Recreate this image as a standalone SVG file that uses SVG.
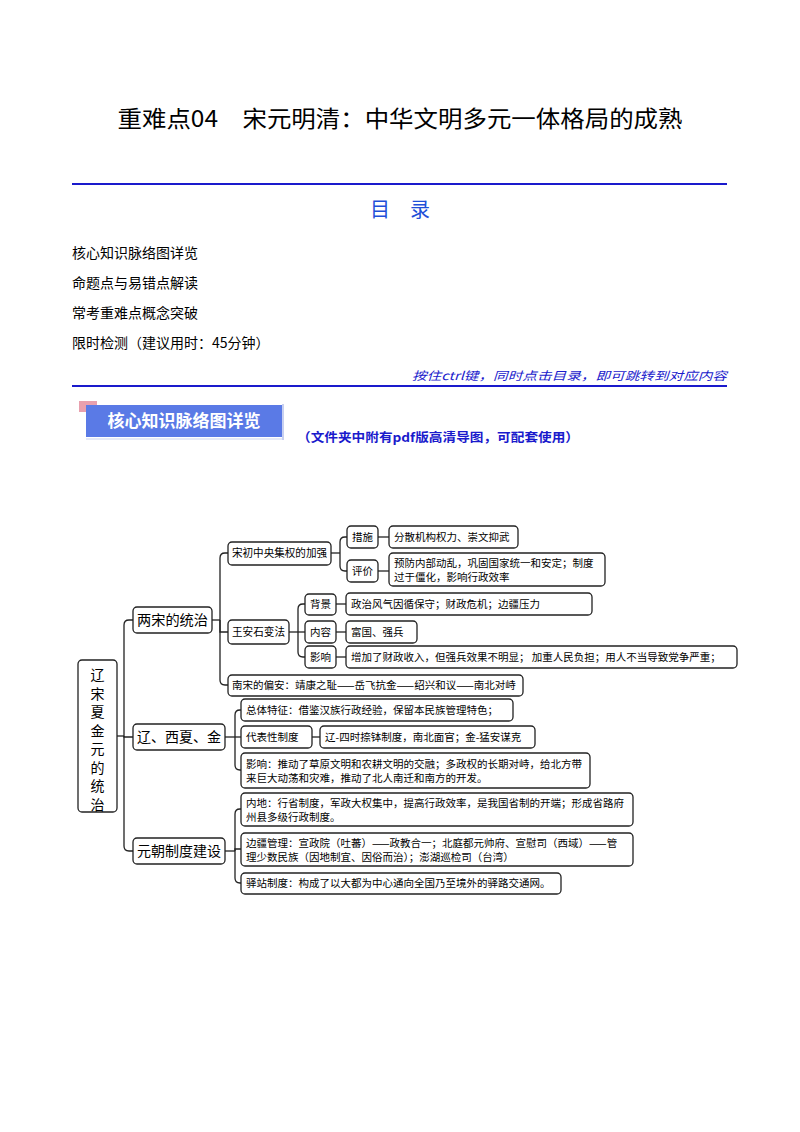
<svg xmlns="http://www.w3.org/2000/svg" width="800" height="1132" viewBox="0 0 800 1132">
<style>
text{font-family:"Noto Sans CJK SC","Liberation Sans",sans-serif;fill:#000}
.b{fill:#fff;stroke:#222;stroke-width:1.3}
.c{fill:none;stroke:#222;stroke-width:1.3}
.s{font-size:10.5px}
.m{font-size:11px}
.l{font-size:14px}
.toc{font-size:14px}
</style>
<rect width="800" height="1132" fill="#fff"/>
<text x="400" y="127" text-anchor="middle" style="font-size:23px" textLength="565" lengthAdjust="spacingAndGlyphs">重难点04　宋元明清：中华文明多元一体格局的成熟</text>
<line x1="72" y1="184" x2="727" y2="184" stroke="#1a1acc" stroke-width="2.2"/>
<text x="400" y="217" text-anchor="middle" style="font-size:20px;fill:#1f4fd8">目　录</text>
<text class="toc" x="72" y="258">核心知识脉络图详览</text>
<text class="toc" x="72" y="288">命题点与易错点解读</text>
<text class="toc" x="72" y="318">常考重难点概念突破</text>
<text class="toc" x="72" y="348">限时检测（建议用时：45分钟）</text>
<line x1="72" y1="386" x2="727" y2="386" stroke="#1a1acc" stroke-width="2"/>
<text x="727" y="380" text-anchor="end" style="font-size:11.5px;fill:#1a1acc;font-style:italic" textLength="315" lengthAdjust="spacingAndGlyphs">按住ctrl键，同时点击目录，即可跳转到对应内容</text>
<rect x="79" y="401" width="18" height="11" fill="#e8a0ae"/>
<rect x="86" y="405" width="196" height="32" fill="#5a7ae6"/>
<line x1="283" y1="404" x2="283" y2="440" stroke="#c8d0f0" stroke-width="2"/>
<line x1="86" y1="439" x2="282" y2="439" stroke="#dde2f5" stroke-width="1.5"/>
<text x="184" y="427" text-anchor="middle" style="font-size:17px;font-weight:bold;fill:#fff">核心知识脉络图详览</text>
<text x="297" y="442" style="font-size:12.5px;font-weight:bold;fill:#1a1acc" textLength="282" lengthAdjust="spacingAndGlyphs">（文件夹中附有pdf版高清导图，可配套使用）</text>

<g id="connectors">
<path class="c" d="M117,736 H124"/>
<path class="c" d="M124,736 V625 Q124,620 129,620 H133"/>
<path class="c" d="M124,736 V737 H133"/>
<path class="c" d="M124,736 V846 Q124,851 129,851 H133"/>
<path class="c" d="M212,620 H220"/>
<path class="c" d="M220,620 V558 Q220,553 225,553 H228"/>
<path class="c" d="M220,620 V632 H228"/>
<path class="c" d="M220,620 V680 Q220,685 225,685 H228"/>
<path class="c" d="M331,553 H340"/>
<path class="c" d="M340,553 V542 Q340,537 345,537 H347"/>
<path class="c" d="M340,553 V566 Q340,571 345,571 H347"/>
<path class="c" d="M378,537 H389"/>
<path class="c" d="M378,571 H389"/>
<path class="c" d="M289,632 H298"/>
<path class="c" d="M298,632 V609 Q298,604 303,604 H305"/>
<path class="c" d="M298,632 H305"/>
<path class="c" d="M298,632 V652 Q298,657 303,657 H305"/>
<path class="c" d="M336,604 H346"/>
<path class="c" d="M336,632 H346"/>
<path class="c" d="M336,657 H346"/>
<path class="c" d="M225,737 H235"/>
<path class="c" d="M235,737 V715 Q235,710 240,710 H241"/>
<path class="c" d="M235,737 H241"/>
<path class="c" d="M235,737 V765 Q235,770 240,770 H241"/>
<path class="c" d="M312,737 H320"/>
<path class="c" d="M225,851 H235"/>
<path class="c" d="M235,851 V814 Q235,809 240,809 H241"/>
<path class="c" d="M235,851 V849 H241"/>
<path class="c" d="M235,851 V878 Q235,883 240,883 H241"/>
</g>

<g id="root"><rect class="b" x="78" y="660" width="39" height="152" rx="4"/>
<text text-anchor="middle" style="font-size:14px"><tspan x="97.5" y="680">辽</tspan><tspan x="97.5" y="698.5">宋</tspan><tspan x="97.5" y="717">夏</tspan><tspan x="97.5" y="735.5">金</tspan><tspan x="97.5" y="754">元</tspan><tspan x="97.5" y="772.5">的</tspan><tspan x="97.5" y="791">统</tspan><tspan x="97.5" y="809.5">治</tspan></text></g>

<g id="n-song"><rect class="b" x="133" y="607" width="79" height="26" rx="4"/><text class="l" x="137" y="625" textLength="71" lengthAdjust="spacingAndGlyphs">两宋的统治</text></g>
<g id="n-liao"><rect class="b" x="133" y="724" width="92" height="26" rx="4"/><text class="l" x="137" y="742" textLength="84" lengthAdjust="spacingAndGlyphs">辽、西夏、金</text></g>
<g id="n-yuan"><rect class="b" x="133" y="838" width="92" height="26" rx="4"/><text class="l" x="137" y="856" textLength="84" lengthAdjust="spacingAndGlyphs">元朝制度建设</text></g>

<g id="n-songchu"><rect class="b" x="228" y="542" width="103" height="23" rx="4"/><text class="m" x="232" y="557" textLength="95" lengthAdjust="spacingAndGlyphs">宋初中央集权的加强</text></g>
<g id="n-cuoshi"><rect class="b" x="347" y="526" width="31" height="22" rx="4"/><text class="s" x="352" y="541">措施</text></g>
<g id="n-cuoshi-t"><rect class="b" x="389" y="526" width="129" height="22" rx="4"/><text class="s" x="394" y="541">分散机构权力、崇文抑武</text></g>
<g id="n-pingjia"><rect class="b" x="347" y="560" width="31" height="22" rx="4"/><text class="s" x="352" y="575">评价</text></g>
<g id="n-pingjia-t"><rect class="b" x="389" y="553" width="216" height="33" rx="4"/><text class="s" x="394" y="567">预防内部动乱，巩固国家统一和安定；制度</text><text class="s" x="394" y="581">过于僵化，影响行政效率</text></g>

<g id="n-wang"><rect class="b" x="228" y="620" width="61" height="24" rx="4"/><text class="m" x="232" y="636" textLength="53" lengthAdjust="spacingAndGlyphs">王安石变法</text></g>
<g id="n-beijing"><rect class="b" x="305" y="594" width="31" height="21" rx="4"/><text class="s" x="310" y="608">背景</text></g>
<g id="n-beijing-t"><rect class="b" x="346" y="593" width="246" height="22" rx="4"/><text class="s" x="351" y="608">政治风气因循保守；财政危机；边疆压力</text></g>
<g id="n-neirong"><rect class="b" x="305" y="621" width="31" height="22" rx="4"/><text class="s" x="310" y="636">内容</text></g>
<g id="n-neirong-t"><rect class="b" x="346" y="621" width="71" height="22" rx="4"/><text class="s" x="351" y="636">富国、强兵</text></g>
<g id="n-yingxiang"><rect class="b" x="305" y="646" width="31" height="22" rx="4"/><text class="s" x="310" y="661">影响</text></g>
<g id="n-yingxiang-t"><rect class="b" x="346" y="646" width="391" height="22" rx="4"/><text class="s" x="351" y="661">增加了财政收入，但强兵效果不明显； 加重人民负担；用人不当导致党争严重；</text></g>

<g id="n-nansong"><rect class="b" x="228" y="675" width="295" height="21" rx="4"/><text class="s" x="232" y="689">南宋的偏安：靖康之耻——岳飞抗金——绍兴和议——南北对峙</text></g>

<g id="n-zongti"><rect class="b" x="241" y="699" width="272" height="22" rx="4"/><text class="s" x="246" y="714">总体特征：借鉴汉族行政经验，保留本民族管理特色；</text></g>
<g id="n-daibiao"><rect class="b" x="241" y="726" width="71" height="22" rx="4"/><text class="s" x="246" y="741">代表性制度</text></g>
<g id="n-daibiao-t"><rect class="b" x="320" y="726" width="215" height="22" rx="4"/><text class="s" x="325" y="741">辽-四时捺钵制度，南北面官；金-猛安谋克</text></g>
<g id="n-liao-yx"><rect class="b" x="241" y="753" width="349" height="35" rx="4"/><text class="s" x="246" y="768">影响：推动了草原文明和农耕文明的交融；多政权的长期对峙，给北方带</text><text class="s" x="246" y="782">来巨大动荡和灾难，推动了北人南迁和南方的开发。</text></g>

<g id="n-neidi"><rect class="b" x="241" y="793" width="392" height="33" rx="4"/><text class="s" x="246" y="807">内地：行省制度，军政大权集中，提高行政效率，是我国省制的开端；形成省路府</text><text class="s" x="246" y="821">州县多级行政制度。</text></g>
<g id="n-bianjiang"><rect class="b" x="241" y="833" width="392" height="33" rx="4"/><text class="s" x="246" y="847">边疆管理：宣政院（吐蕃）——政教合一；北庭都元帅府、宣慰司（西域）——管</text><text class="s" x="246" y="861">理少数民族（因地制宜、因俗而治）；澎湖巡检司（台湾）</text></g>
<g id="n-yizhan"><rect class="b" x="241" y="873" width="320" height="21" rx="4"/><text class="s" x="246" y="887">驿站制度：构成了以大都为中心通向全国乃至境外的驿路交通网。</text></g>
</svg>
